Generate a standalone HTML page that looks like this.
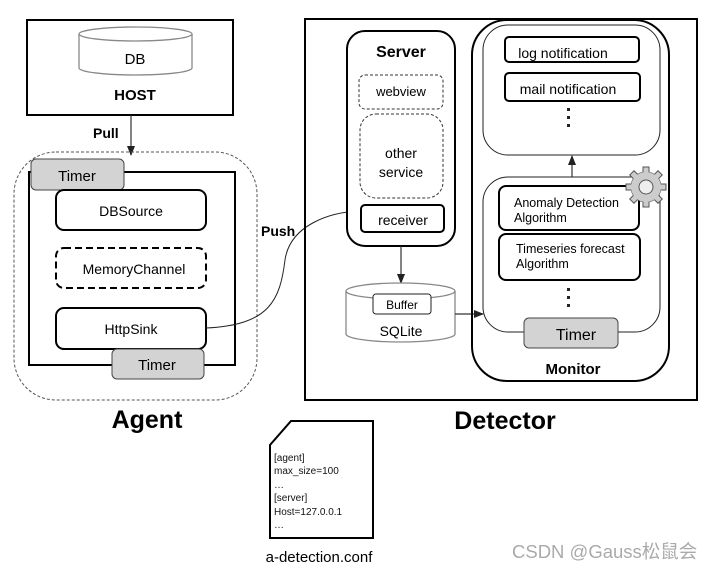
<!DOCTYPE html>
<html><head><meta charset="utf-8"><style>
html,body{margin:0;padding:0;background:#fff;}
svg{display:block;font-family:"Liberation Sans",Arial,sans-serif;}
</style></head><body>
<svg width="714" height="570" viewBox="0 0 714 570" xmlns="http://www.w3.org/2000/svg">
<defs>
<marker id="ah" markerWidth="10" markerHeight="8" refX="9" refY="4" orient="auto" markerUnits="userSpaceOnUse">
<path d="M0,0 L10,4 L0,8 Z" fill="#222"/></marker>
</defs>
<rect width="714" height="570" fill="#fff"/>
<!-- HOST -->
<rect x="27" y="20" width="206" height="95" fill="none" stroke="#000" stroke-width="2"/>
<path d="M79,34 L79,68 A56.5,7 0 0 0 192,68 L192,34" fill="#fff" stroke="#888" stroke-width="1.3"/>
<ellipse cx="135.5" cy="34" rx="56.5" ry="7" fill="#fff" stroke="#888" stroke-width="1.3"/>
<text x="135" y="64" font-size="15" text-anchor="middle">DB</text>
<text x="135" y="100" font-size="15" font-weight="bold" text-anchor="middle">HOST</text>
<line x1="131" y1="115" x2="131" y2="155" stroke="#333" stroke-width="1.2" marker-end="url(#ah)"/>
<text x="93" y="138" font-size="14" font-weight="bold">Pull</text>
<!-- Agent -->
<rect x="14" y="152" width="243" height="248" rx="42" fill="none" stroke="#555" stroke-width="1" stroke-dasharray="3,2"/>
<rect x="29" y="172" width="206" height="193" fill="none" stroke="#000" stroke-width="2"/>
<rect x="31" y="159" width="93" height="31" rx="5" fill="#d3d3d3" stroke="#444" stroke-width="1"/>
<text x="77" y="181" font-size="15" text-anchor="middle">Timer</text>
<rect x="56" y="190" width="150" height="40" rx="8" fill="#fff" stroke="#000" stroke-width="2"/>
<text x="131" y="216" font-size="14" text-anchor="middle">DBSource</text>
<rect x="56" y="248" width="150" height="40" rx="8" fill="#fff" stroke="#000" stroke-width="2" stroke-dasharray="7,4"/>
<text x="134" y="274" font-size="14" text-anchor="middle">MemoryChannel</text>
<rect x="56" y="308" width="150" height="41" rx="8" fill="#fff" stroke="#000" stroke-width="2"/>
<text x="131" y="334" font-size="14" text-anchor="middle">HttpSink</text>
<rect x="112" y="349" width="92" height="30" rx="5" fill="#d3d3d3" stroke="#444" stroke-width="1"/>
<text x="157" y="370" font-size="15" text-anchor="middle">Timer</text>
<text x="147" y="428" font-size="25" font-weight="bold" text-anchor="middle">Agent</text>
<!-- Push -->
<path d="M206,328 C270,325 280,300 285,260 C290,225 330,212 360,211" fill="none" stroke="#222" stroke-width="1" marker-end="url(#ah)"/>
<text x="261" y="236" font-size="14" font-weight="bold">Push</text>
<!-- Detector -->
<rect x="305" y="19" width="392" height="381" fill="none" stroke="#000" stroke-width="2"/>
<rect x="347" y="31" width="108" height="215" rx="18" fill="#fff" stroke="#000" stroke-width="2"/>
<text x="401" y="57" font-size="16" font-weight="bold" text-anchor="middle">Server</text>
<rect x="359" y="75" width="84" height="34" rx="6" fill="none" stroke="#333" stroke-width="1" stroke-dasharray="3,2"/>
<text x="401" y="96" font-size="13" text-anchor="middle">webview</text>
<rect x="360" y="114" width="83" height="84" rx="16" fill="none" stroke="#333" stroke-width="1" stroke-dasharray="3,2"/>
<text x="401" y="158" font-size="14" text-anchor="middle">other</text>
<text x="401" y="177" font-size="14" text-anchor="middle">service</text>
<rect x="361" y="205" width="83" height="27" rx="4" fill="#fff" stroke="#000" stroke-width="2"/>
<text x="403" y="225" font-size="14" text-anchor="middle">receiver</text>
<line x1="401" y1="246" x2="401" y2="283" stroke="#333" stroke-width="1.2" marker-end="url(#ah)"/>
<path d="M346,291 L346,334 A54.5,8 0 0 0 455,334 L455,291" fill="#fff" stroke="#888" stroke-width="1.3"/>
<ellipse cx="400.5" cy="291" rx="54.5" ry="8" fill="#fff" stroke="#888" stroke-width="1.3"/>
<rect x="373" y="294" width="58" height="20" rx="3" fill="#fff" stroke="#222" stroke-width="1"/>
<text x="402" y="309" font-size="12" text-anchor="middle">Buffer</text>
<text x="401" y="336" font-size="14" text-anchor="middle">SQLite</text>
<line x1="455" y1="314" x2="483" y2="314" stroke="#333" stroke-width="1.2" marker-end="url(#ah)"/>
<!-- Monitor -->
<rect x="472" y="20" width="197" height="361" rx="35" fill="none" stroke="#000" stroke-width="2"/>
<text x="573" y="374" font-size="15" font-weight="bold" text-anchor="middle">Monitor</text>
<rect x="483" y="25" width="177" height="130" rx="25" fill="none" stroke="#222" stroke-width="1"/>
<rect x="505" y="37" width="134" height="25" rx="4" fill="#fff" stroke="#000" stroke-width="2"/>
<text x="563" y="58" font-size="14" text-anchor="middle">log notification</text>
<rect x="505" y="73" width="135" height="28" rx="4" fill="#fff" stroke="#000" stroke-width="2"/>
<text x="568" y="94" font-size="14" text-anchor="middle">mail notification</text>
<g fill="#222"><rect x="567" y="108" width="3" height="3"/><rect x="567" y="116" width="3" height="3"/><rect x="567" y="124" width="3" height="3"/></g>
<line x1="572" y1="177" x2="572" y2="156" stroke="#333" stroke-width="1.2" marker-end="url(#ah)"/>
<rect x="483" y="177" width="177" height="155" rx="25" fill="none" stroke="#222" stroke-width="1"/>
<rect x="499" y="186" width="140" height="44" rx="7" fill="#fff" stroke="#000" stroke-width="2"/>
<text x="514" y="207" font-size="12.5">Anomaly Detection</text>
<text x="514" y="222" font-size="12.5">Algorithm</text>
<rect x="499" y="234" width="141" height="46" rx="7" fill="#fff" stroke="#000" stroke-width="2"/>
<text x="516" y="253" font-size="12.5">Timeseries forecast</text>
<text x="516" y="268" font-size="12.5">Algorithm</text>
<g fill="#222"><rect x="567" y="288" width="3" height="3"/><rect x="567" y="296" width="3" height="3"/><rect x="567" y="304" width="3" height="3"/></g>
<rect x="524" y="318" width="94" height="30" rx="5" fill="#d3d3d3" stroke="#444" stroke-width="1"/>
<text x="576" y="340" font-size="16" text-anchor="middle">Timer</text>
<!-- gear -->
<g transform="translate(646,187)">
<g fill="#ccc" stroke="#555" stroke-width="1">
<circle r="15"/>
<g>
<rect x="-3" y="-20" width="6" height="7"/><rect x="-3" y="13" width="6" height="7"/>
<rect x="-20" y="-3" width="7" height="6"/><rect x="13" y="-3" width="7" height="6"/>
<rect x="-3" y="-20" width="6" height="7" transform="rotate(45)"/><rect x="-3" y="13" width="6" height="7" transform="rotate(45)"/>
<rect x="-20" y="-3" width="7" height="6" transform="rotate(45)"/><rect x="13" y="-3" width="7" height="6" transform="rotate(45)"/>
</g>
<circle r="15" stroke="none"/>
</g>
<circle r="7" fill="#eee" stroke="#555" stroke-width="1"/>
</g>
<text x="505" y="429" font-size="25" font-weight="bold" text-anchor="middle">Detector</text>
<!-- conf -->
<path d="M291,421 L373,421 L373,538 L270,538 L270,445 Z" fill="#fff" stroke="#000" stroke-width="2"/>
<g font-size="10" fill="#111">
<text x="274" y="461">[agent]</text>
<text x="274" y="474">max_size=100</text>
<text x="274" y="488">…</text>
<text x="274" y="501">[server]</text>
<text x="274" y="515">Host=127.0.0.1</text>
<text x="274" y="528">…</text>
</g>
<text x="319" y="562" font-size="15" text-anchor="middle">a-detection.conf</text>
<text x="512" y="558" font-size="18.5" fill="#aaa" font-family="'Liberation Sans','Noto Sans CJK SC',sans-serif">CSDN @Gauss松鼠会</text>
</svg>
</body></html>
